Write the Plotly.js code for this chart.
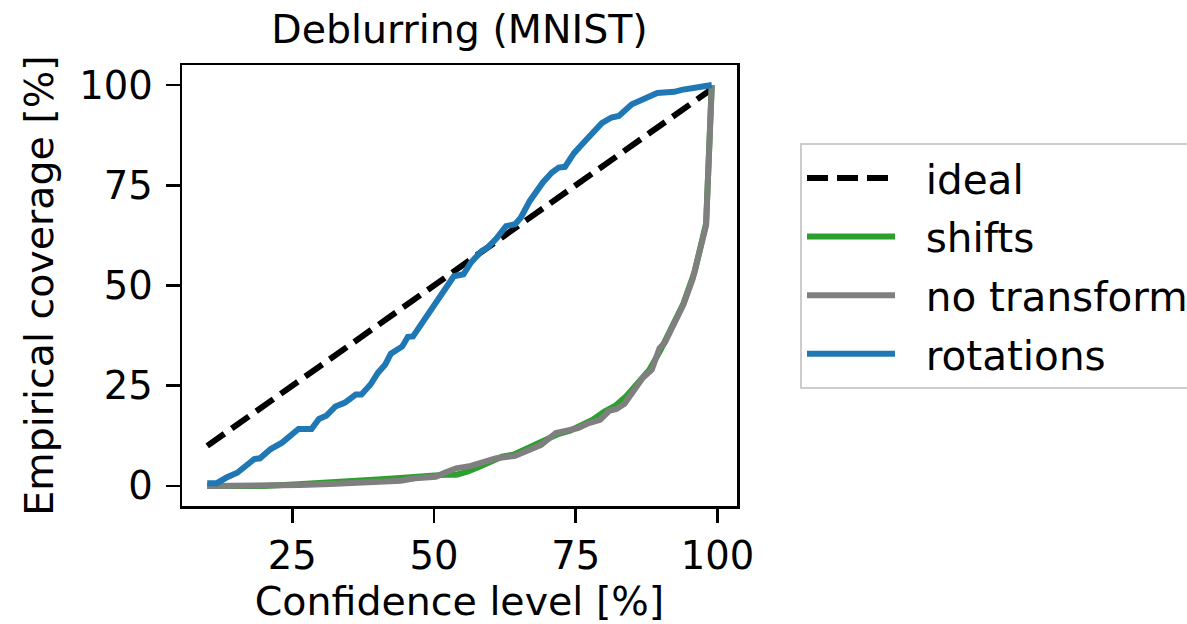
<!DOCTYPE html>
<html>
<head>
<meta charset="utf-8">
<script src="https://cdn.plot.ly/plotly-3.0.1.min.js"></script>
<style>html,body{margin:0;padding:0;background:#fff;}#chart{width:1187px;height:624px;}</style>
</head>
<body>
<div id="chart"></div>
<script>
// Data
const idealX = [10, 99];
const idealY = [10, 99];

const rotX = [10, 11.7, 13.4, 15.3, 18.3, 19.3, 21.2, 23.2, 26.1, 28.4, 29.7, 31, 32.6, 34.3, 36.2, 37.2, 38.8, 40.1, 41.4, 42.4, 44.4, 45.4, 46.3, 48, 49.9, 51.9, 53.5, 55.2, 56.5, 58.4, 59.4, 61, 62.7, 64.3, 65.3, 66.9, 69.2, 70.8, 72, 73.1, 74.7, 76.7, 78, 79.6, 81.3, 82.6, 84.9, 87.8, 89.4, 92.4, 93.7, 96.3, 97.6, 99];
const rotY = [0.7, 0.7, 2.1, 3.3, 6.7, 6.9, 9.2, 10.8, 14.2, 14.2, 16.7, 17.5, 19.8, 20.8, 22.8, 22.8, 25.3, 28.2, 30.3, 33, 34.8, 37.2, 37.3, 40.8, 45, 49, 52.3, 52.8, 55.7, 58.6, 59.4, 61.7, 64.8, 65.3, 66.9, 71.1, 75.7, 78.2, 79.4, 79.6, 83, 86.1, 88.3, 90.5, 91.9, 92.3, 95.2, 96.9, 98, 98.3, 98.8, 99.4, 99.7, 100];

const noneX = [10, 20, 26.4, 31.7, 36.2, 40.1, 44.1, 46.7, 50.3, 51.9, 53.9, 56.5, 59.1, 61, 64.3, 66.9, 68.9, 71.5, 73.4, 75.4, 77.3, 79.3, 80.9, 82.2, 83.6, 85.2, 86.8, 88.4, 89.8, 90.7, 92.4, 94, 95.6, 96.9, 98, 99];
const noneY = [0, 0, 0.25, 0.5, 0.8, 1.3, 1.3, 1.9, 2.3, 3.3, 4.4, 5, 6.1, 6.9, 7.5, 9, 10.25, 13.2, 13.75, 14.4, 15.7, 16.5, 18.75, 19.2, 20.5, 24, 26.9, 29, 34.4, 35.7, 40.25, 45.25, 51.5, 58.2, 65, 100];

const shiftX = [10, 20, 26, 32, 36, 40, 44, 48, 50, 52, 54, 56, 58, 60, 62, 64, 66, 68, 70, 72, 74, 76, 78, 80, 82, 84, 86, 88, 90, 92, 94, 96, 98, 99];
const shiftY = [0, 0, 0.4, 0.8, 1.2, 1.6, 2.0, 2.5, 2.8, 2.8, 2.8, 3.6, 4.8, 6.2, 7.3, 7.8, 9.2, 10.6, 12.0, 13.0, 13.8, 15.2, 16.5, 18.5, 20.0, 22.5, 26.0, 29.0, 34.0, 39.5, 45.5, 53.5, 65.5, 100];

const seriesNames = ['ideal', 'shifts', 'no transform', 'rotations'];
const xTicks = [25, 50, 75, 100];
const yTicks = [0, 25, 50, 75, 100];

const FONT = "DejaVu Sans";
const LW = 6;
const GAP = '\u00a0\u00a0'; // spacing between legend sample and label
const traces = [
  {x: idealX, y: idealY, name: GAP + seriesNames[0], mode: 'lines', legendgroup: 'a',
   line: {color: '#000000', width: LW, dash: '21px,9px'}},
  {x: shiftX, y: shiftY, name: GAP + seriesNames[1], mode: 'lines', legendgroup: 'b',
   line: {color: '#2ca02c', width: LW}},
  {x: noneX, y: noneY, name: GAP + seriesNames[2], mode: 'lines', legendgroup: 'c',
   line: {color: '#7f7f7f', width: LW}},
  {x: rotX, y: rotY, name: GAP + seriesNames[3], mode: 'lines', legendgroup: 'd',
   line: {color: '#1f77b4', width: LW}}
];

const axisCommon = {
  showgrid: false, zeroline: false, showline: true, mirror: true,
  linecolor: '#000', linewidth: 2.5, ticks: 'outside', ticklen: 14,
  tickwidth: 2.5, tickcolor: '#000', tickfont: {family: FONT, size: 38.5, color: '#000'},
  automargin: false
};

const layout = {
  width: 1187, height: 624,
  margin: {l: 182, r: 450, t: 65, b: 118, pad: 0, autoexpand: false},
  paper_bgcolor: '#fff', plot_bgcolor: '#fff',
  font: {family: FONT, color: '#000'},
  title: {text: 'Deblurring (MNIST)', font: {family: FONT, size: 39.5, color: '#000'},
          x: 0.5, xref: 'paper', xanchor: 'center', y: 1, yref: 'paper', yanchor: 'bottom', pad: {b: 22}},
  xaxis: Object.assign({}, axisCommon, {
    range: [5.55, 103.45], tickvals: xTicks, ticktext: xTicks.map(String),
    title: {text: 'Confidence level [%]', font: {family: FONT, size: 39.5, color: '#000'}, standoff: 12}
  }),
  yaxis: Object.assign({}, axisCommon, {
    range: [-5, 105], tickvals: yTicks, ticktext: yTicks.map(String), ticklabelstandoff: 5,
    title: {text: 'Empirical coverage [%]', font: {family: FONT, size: 39.5, color: '#000'}, standoff: 14}
  }),
  showlegend: true,
  legend: {
    x: 1.1135, y: 0.823, xanchor: 'left', yanchor: 'top', xref: 'paper', yref: 'paper',
    bgcolor: '#fff', bordercolor: '#cccccc', borderwidth: 2,
    font: {family: FONT, size: 40.5, color: '#000'},
    itemwidth: 88, tracegroupgap: 3, traceorder: 'grouped'
  }
};

Plotly.newPlot('chart', traces, layout, {displayModeBar: false, staticPlot: true});
</script>
</body>
</html>
